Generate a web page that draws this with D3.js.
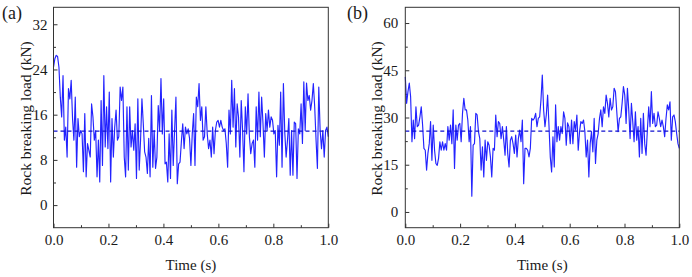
<!DOCTYPE html>
<html>
<head>
<meta charset="utf-8">
<script src="https://cdn.jsdelivr.net/npm/d3@7"></script>
<style>
  body { margin: 0; background: #fff; }
  text { font-family: "Liberation Serif", "Times New Roman", Times, serif; fill: #1a1a1a; }
</style>
</head>
<body>
<div id="chart"></div>
<script>
// rock breaking load, panel (a)
const loadA = [24.4, 25.9, 26.5, 26.3, 24.4, 19.1, 15.6, 22.9, 11.5, 13.8, 8.5, 20.6, 18.8, 22.1, 15.3, 11.5, 19.1, 6.7, 15.3, 12.1,
  13.2, 12.6, 5.9, 16.2, 5.0, 10.9, 9.7, 8.5, 17.9, 15.6, 11.5, 13.2, 5.0, 11.5, 4.1, 18.5, 7.0, 22.9, 10.3, 17.4,
  10.0, 20.0, 4.1, 15.3, 8.5, 13.8, 16.8, 11.5, 12.1, 20.9, 18.5, 20.9, 8.5, 5.0, 17.4, 6.2, 17.4, 10.3, 13.2, 9.7,
  14.4, 4.7, 18.8, 6.2, 11.5, 18.8, 14.4, 9.4, 8.5, 5.6, 11.8, 5.0, 19.4, 6.7, 13.2, 6.5, 8.5, 17.6, 13.2, 22.4,
  12.6, 18.8, 7.3, 7.6, 4.1, 12.6, 4.7, 16.8, 7.0, 13.2, 19.1, 3.8, 7.3, 7.6, 11.2, 14.4, 10.0, 13.8, 12.6, 13.5,
  11.8, 7.0, 12.6, 16.2, 7.0, 19.1, 17.4, 21.5, 15.0, 17.4, 11.5, 12.1, 17.4, 12.6, 10.0, 11.5, 8.5, 13.8, 9.1, 13.2,
  14.7, 15.0, 13.8, 15.0, 13.8, 13.2, 13.5, 10.9, 6.7, 16.8, 12.6, 22.1, 13.8, 20.6, 10.3, 17.9, 15.6, 8.5, 18.5, 13.2,
  5.9, 17.4, 12.6, 19.7, 12.1, 9.1, 10.9, 11.5, 6.7, 17.4, 11.5, 20.0, 12.1, 19.1, 14.4, 8.5, 16.2, 13.2, 16.8, 13.8,
  15.6, 15.0, 12.6, 13.2, 5.0, 14.1, 10.6, 20.0, 6.7, 21.5, 12.9, 8.5, 11.5, 15.3, 5.3, 13.2, 5.3, 14.7, 14.4, 4.7,
  13.5, 12.6, 17.9, 10.9, 21.8, 13.2, 21.6, 18.5, 19.4, 16.8, 18.5, 21.5, 17.4, 11.5, 6.5, 20.9, 13.2, 10.0, 13.2, 8.5,
  13.2, 13.8, 12.1];
// rock breaking load, panel (b)
const loadB = [42.9, 34.5, 38.2, 40.9, 36.6, 22.3, 29.2, 23.3, 33.4, 27.1, 27.6, 30.2, 33.4, 27.6, 20.2, 19.6, 13.3, 18.6, 21.7, 28.7,
  16.4, 27.6, 19.6, 15.4, 14.8, 17.0, 22.3, 19.6, 22.3, 19.6, 21.7, 19.6, 27.1, 22.8, 27.6, 21.7, 32.4, 13.8, 27.6, 22.8,
  27.6, 28.1, 22.3, 31.3, 36.1, 32.4, 32.4, 29.2, 22.3, 27.1, 5.0, 21.2, 21.7, 31.3, 30.8, 25.5, 23.3, 13.3, 20.7, 11.1,
  22.8, 16.4, 22.3, 21.2, 17.5, 11.1, 20.2, 19.6, 30.8, 23.9, 28.7, 28.1, 23.3, 27.1, 22.8, 18.0, 27.1, 18.6, 14.3, 22.8,
  23.9, 21.7, 18.6, 24.4, 17.5, 23.3, 26.0, 22.3, 29.2, 9.0, 20.2, 20.2, 19.6, 17.5, 20.2, 29.7, 29.2, 29.7, 31.3, 27.1,
  29.7, 30.2, 35.6, 43.5, 32.4, 27.1, 30.8, 37.1, 27.6, 17.5, 12.7, 23.9, 14.3, 34.0, 22.3, 27.1, 22.8, 27.1, 24.9, 31.8,
  29.7, 21.2, 28.3, 27.1, 21.7, 29.2, 21.7, 28.7, 26.0, 30.8, 19.6, 25.5, 28.7, 28.1, 29.2, 25.5, 17.5, 22.8, 11.1, 21.7,
  25.5, 19.1, 29.7, 15.4, 22.8, 24.9, 29.7, 32.4, 27.1, 33.4, 31.3, 37.1, 34.5, 30.2, 36.1, 32.4, 33.4, 39.3, 38.2, 31.8,
  25.5, 29.7, 30.2, 34.5, 39.8, 37.1, 28.1, 39.3, 32.4, 23.3, 34.5, 28.7, 22.3, 31.8, 22.8, 27.1, 17.5, 29.7, 18.6, 31.3,
  21.7, 18.0, 26.0, 33.4, 27.1, 38.2, 28.1, 31.3, 27.1, 27.6, 31.8, 29.7, 27.1, 29.2, 27.1, 23.9, 29.7, 34.0, 32.4, 35.0,
  22.8, 30.2, 30.8, 28.7, 24.9, 21.7, 20.2];

const meanA = 13.1;
const meanB = 25.7;
const timeTicks = [0, 0.2, 0.4, 0.6, 0.8, 1.0];
const yTicksA = [0, 8, 16, 24, 32];
const yTicksB = [0, 15, 30, 45, 60];

const W = 692, H = 277;
const svg = d3.select("#chart").append("svg").attr("width", W).attr("height", H);

function panel(opt) {
    const x = d3.scaleLinear().domain([0, 1]).range([opt.left, opt.right]);
    const y = d3.scaleLinear().domain(opt.yDomain).range([227.7, 7.3]);
    const g = svg.append("g");

    //Minor + major ticks, pointing inward
    const minorX = d3.range(0.1, 1, 0.2);
    g.append("g").attr("transform", "translate(0,227.7)")
        .call(d3.axisBottom(x).tickValues(minorX).tickSize(-2.5).tickFormat(""))
        .call(a => a.select(".domain").remove());
    g.append("g").attr("transform", "translate(0,227.7)")
        .call(d3.axisBottom(x).tickValues(timeTicks).tickSize(-4).tickPadding(6.5).tickFormat(d3.format(".1f")))
        .call(a => a.select(".domain").remove())
        .call(a => a.selectAll("text").attr("font-size", 15).attr("dy", "0.75em"));

    const step = opt.yTicks[1] - opt.yTicks[0];
    const minorY = opt.yTicks.map(v => v + step / 2).filter(v => v < opt.yDomain[1]);
    minorY.push(opt.yTicks[0] - step / 2);
    g.append("g").attr("transform", `translate(${opt.left},0)`)
        .call(d3.axisLeft(y).tickValues(minorY.filter(v => v > opt.yDomain[0])).tickSize(-2.5).tickFormat(""))
        .call(a => a.select(".domain").remove());
    g.append("g").attr("transform", `translate(${opt.left},0)`)
        .call(d3.axisLeft(y).tickValues(opt.yTicks).tickSize(-4).tickPadding(opt.pad))
        .call(a => a.select(".domain").remove())
        .call(a => a.selectAll("text").attr("font-size", 15));

    g.selectAll(".tick line").attr("stroke", "#333");

    //Series
    const n = opt.data.length;
    const line = d3.line()
        .x((d, i) => x(i / (n - 1)))
        .y(d => y(d));
    g.append("path")
        .datum(opt.data)
        .attr("fill", "none")
        .attr("stroke", "#2323ff")
        .attr("stroke-width", 1.15)
        .attr("stroke-linejoin", "round")
        .attr("d", line);

    //Mean line
    g.append("line")
        .attr("x1", x(0)).attr("x2", x(1))
        .attr("y1", y(opt.mean)).attr("y2", y(opt.mean))
        .attr("stroke", "#1010d0")
        .attr("stroke-width", 1.2)
        .attr("stroke-dasharray", "4,3");

    //Frame
    g.append("rect")
        .attr("x", opt.left).attr("y", 7.3)
        .attr("width", opt.right - opt.left).attr("height", 227.7 - 7.3)
        .attr("fill", "none").attr("stroke", "#333").attr("stroke-width", 1);

    //Labels
    g.append("text")
        .attr("x", (opt.left + opt.right) / 2).attr("y", 270)
        .attr("text-anchor", "middle").attr("font-size", 15)
        .text("Time (s)");
    g.append("text")
        .attr("transform", `translate(${opt.left - 23},118.5) rotate(-90)`)
        .attr("text-anchor", "middle").attr("font-size", 15.5)
        .text("Rock breaking load (kN)");
    g.append("text")
        .attr("x", opt.tagX).attr("y", 19)
        .attr("font-size", 18)
        .text(opt.tag);
}

panel({left: 53.5, right: 328.3, yDomain: [-4, 35], yTicks: yTicksA, data: loadA, mean: meanA, pad: 6, tag: "(a)", tagX: 2});
panel({left: 405.3, right: 679.3, yDomain: [-5, 65], yTicks: yTicksB, data: loadB, mean: meanB, pad: 7, tag: "(b)", tagX: 347});
</script>
</body>
</html>
